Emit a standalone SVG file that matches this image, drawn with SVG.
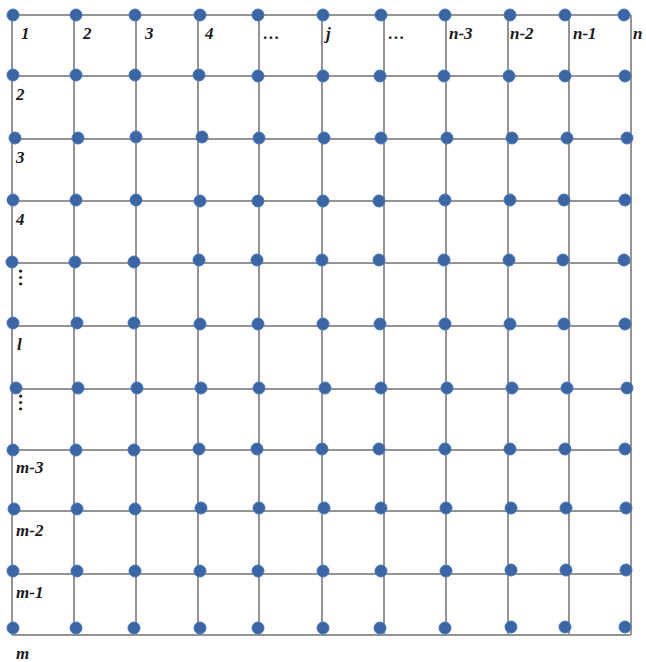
<svg xmlns="http://www.w3.org/2000/svg" width="646" height="662" viewBox="0 0 646 662">
<style>
.ln{stroke:#949494;stroke-width:2;fill:none}
.d{fill:#3b66a5;stroke:#4a77b8;stroke-width:1}
.t{font-family:"Liberation Serif","Times New Roman",serif;font-weight:bold;font-style:italic;font-size:17px;fill:#1a1a1a}
.v{font-family:"Liberation Serif","Times New Roman",serif;font-weight:bold;font-size:19px;fill:#1a1a1a}
</style>
<rect width="646" height="662" fill="#fff"/>
<g id="connectors" class="ln">
<path d="M12 15V635M74 15V635M136 15V635M198 15V635M259 15V635M322 15V635M384 15V635M446 15V635M508 15V635M569 15V635M631 15V635"/>
<path d="M12 15H631M12 76H631M12 139H631M12 201H631M12 263H631M12 326H631M12 389H631M12 450H631M12 511H631M12 574H631M12 635H631"/>
</g>
<g id="nodes">
<g id="r1">
<g id="n1-1"><circle class="d" cx="13" cy="15" r="6"/></g><g id="n1-2"><circle class="d" cx="76" cy="15" r="6"/></g><g id="n1-3"><circle class="d" cx="135" cy="15" r="6"/></g><g id="n1-4"><circle class="d" cx="200" cy="15" r="6"/></g><g id="n1-5"><circle class="d" cx="258" cy="15" r="6"/></g><g id="n1-6"><circle class="d" cx="323" cy="15" r="6"/></g><g id="n1-7"><circle class="d" cx="381" cy="15" r="6"/></g><g id="n1-8"><circle class="d" cx="445" cy="15" r="6"/></g><g id="n1-9"><circle class="d" cx="510" cy="15" r="6"/></g><g id="n1-10"><circle class="d" cx="565" cy="15" r="6"/></g><g id="n1-11"><circle class="d" cx="624" cy="15" r="6"/></g>
</g>
<g id="r2">
<g id="n2-1"><circle class="d" cx="13" cy="75" r="6"/></g><g id="n2-2"><circle class="d" cx="76" cy="75" r="6"/></g><g id="n2-3"><circle class="d" cx="135" cy="75" r="6"/></g><g id="n2-4"><circle class="d" cx="199" cy="75" r="6"/></g><g id="n2-5"><circle class="d" cx="258" cy="76" r="6"/></g><g id="n2-6"><circle class="d" cx="323" cy="76" r="6"/></g><g id="n2-7"><circle class="d" cx="380" cy="76" r="6"/></g><g id="n2-8"><circle class="d" cx="444" cy="76" r="6"/></g><g id="n2-9"><circle class="d" cx="509" cy="76" r="6"/></g><g id="n2-10"><circle class="d" cx="565" cy="76" r="6"/></g><g id="n2-11"><circle class="d" cx="625" cy="76" r="6"/></g>
</g>
<g id="r3">
<g id="n3-1"><circle class="d" cx="15" cy="138" r="6"/></g><g id="n3-2"><circle class="d" cx="78" cy="138" r="6"/></g><g id="n3-3"><circle class="d" cx="136" cy="137" r="6"/></g><g id="n3-4"><circle class="d" cx="202" cy="137" r="6"/></g><g id="n3-5"><circle class="d" cx="259" cy="138" r="6"/></g><g id="n3-6"><circle class="d" cx="324" cy="138" r="6"/></g><g id="n3-7"><circle class="d" cx="381" cy="138" r="6"/></g><g id="n3-8"><circle class="d" cx="447" cy="138" r="6"/></g><g id="n3-9"><circle class="d" cx="512" cy="138" r="6"/></g><g id="n3-10"><circle class="d" cx="567" cy="138" r="6"/></g><g id="n3-11"><circle class="d" cx="627" cy="138" r="6"/></g>
</g>
<g id="r4">
<g id="n4-1"><circle class="d" cx="13" cy="200" r="6"/></g><g id="n4-2"><circle class="d" cx="76" cy="200" r="6"/></g><g id="n4-3"><circle class="d" cx="136" cy="200" r="6"/></g><g id="n4-4"><circle class="d" cx="200" cy="201" r="6"/></g><g id="n4-5"><circle class="d" cx="258" cy="201" r="6"/></g><g id="n4-6"><circle class="d" cx="323" cy="201" r="6"/></g><g id="n4-7"><circle class="d" cx="379" cy="201" r="6"/></g><g id="n4-8"><circle class="d" cx="445" cy="200" r="6"/></g><g id="n4-9"><circle class="d" cx="510" cy="200" r="6"/></g><g id="n4-10"><circle class="d" cx="564" cy="200" r="6"/></g><g id="n4-11"><circle class="d" cx="625" cy="200" r="6"/></g>
</g>
<g id="r5">
<g id="n5-1"><circle class="d" cx="12" cy="262" r="6"/></g><g id="n5-2"><circle class="d" cx="75" cy="262" r="6"/></g><g id="n5-3"><circle class="d" cx="134" cy="262" r="6"/></g><g id="n5-4"><circle class="d" cx="199" cy="260" r="6"/></g><g id="n5-5"><circle class="d" cx="257" cy="260" r="6"/></g><g id="n5-6"><circle class="d" cx="322" cy="260" r="6"/></g><g id="n5-7"><circle class="d" cx="379" cy="260" r="6"/></g><g id="n5-8"><circle class="d" cx="444" cy="260" r="6"/></g><g id="n5-9"><circle class="d" cx="509" cy="260" r="6"/></g><g id="n5-10"><circle class="d" cx="563" cy="260" r="6"/></g><g id="n5-11"><circle class="d" cx="624" cy="260" r="6"/></g>
</g>
<g id="r6">
<g id="n6-1"><circle class="d" cx="13" cy="323" r="6"/></g><g id="n6-2"><circle class="d" cx="77" cy="323" r="6"/></g><g id="n6-3"><circle class="d" cx="134" cy="323" r="6"/></g><g id="n6-4"><circle class="d" cx="200" cy="324" r="6"/></g><g id="n6-5"><circle class="d" cx="258" cy="324" r="6"/></g><g id="n6-6"><circle class="d" cx="323" cy="324" r="6"/></g><g id="n6-7"><circle class="d" cx="380" cy="324" r="6"/></g><g id="n6-8"><circle class="d" cx="445" cy="324" r="6"/></g><g id="n6-9"><circle class="d" cx="510" cy="324" r="6"/></g><g id="n6-10"><circle class="d" cx="564" cy="324" r="6"/></g><g id="n6-11"><circle class="d" cx="625" cy="324" r="6"/></g>
</g>
<g id="r7">
<g id="n7-1"><circle class="d" cx="16" cy="388" r="6"/></g><g id="n7-2"><circle class="d" cx="78" cy="388" r="6"/></g><g id="n7-3"><circle class="d" cx="137" cy="388" r="6"/></g><g id="n7-4"><circle class="d" cx="201" cy="388" r="6"/></g><g id="n7-5"><circle class="d" cx="259" cy="388" r="6"/></g><g id="n7-6"><circle class="d" cx="325" cy="388" r="6"/></g><g id="n7-7"><circle class="d" cx="381" cy="388" r="6"/></g><g id="n7-8"><circle class="d" cx="447" cy="388" r="6"/></g><g id="n7-9"><circle class="d" cx="512" cy="388" r="6"/></g><g id="n7-10"><circle class="d" cx="567" cy="388" r="6"/></g><g id="n7-11"><circle class="d" cx="627" cy="388" r="6"/></g>
</g>
<g id="r8">
<g id="n8-1"><circle class="d" cx="13" cy="450" r="6"/></g><g id="n8-2"><circle class="d" cx="76" cy="450" r="6"/></g><g id="n8-3"><circle class="d" cx="134" cy="450" r="6"/></g><g id="n8-4"><circle class="d" cx="199" cy="449" r="6"/></g><g id="n8-5"><circle class="d" cx="257" cy="449" r="6"/></g><g id="n8-6"><circle class="d" cx="322" cy="449" r="6"/></g><g id="n8-7"><circle class="d" cx="379" cy="449" r="6"/></g><g id="n8-8"><circle class="d" cx="445" cy="449" r="6"/></g><g id="n8-9"><circle class="d" cx="510" cy="449" r="6"/></g><g id="n8-10"><circle class="d" cx="565" cy="449" r="6"/></g><g id="n8-11"><circle class="d" cx="625" cy="449" r="6"/></g>
</g>
<g id="r9">
<g id="n9-1"><circle class="d" cx="14" cy="509" r="6"/></g><g id="n9-2"><circle class="d" cx="77" cy="509" r="6"/></g><g id="n9-3"><circle class="d" cx="135" cy="509" r="6"/></g><g id="n9-4"><circle class="d" cx="201" cy="508" r="6"/></g><g id="n9-5"><circle class="d" cx="259" cy="508" r="6"/></g><g id="n9-6"><circle class="d" cx="324" cy="508" r="6"/></g><g id="n9-7"><circle class="d" cx="381" cy="508" r="6"/></g><g id="n9-8"><circle class="d" cx="446" cy="508" r="6"/></g><g id="n9-9"><circle class="d" cx="511" cy="508" r="6"/></g><g id="n9-10"><circle class="d" cx="566" cy="508" r="6"/></g><g id="n9-11"><circle class="d" cx="626" cy="508" r="6"/></g>
</g>
<g id="r10">
<g id="n10-1"><circle class="d" cx="13" cy="571" r="6"/></g><g id="n10-2"><circle class="d" cx="77" cy="571" r="6"/></g><g id="n10-3"><circle class="d" cx="135" cy="571" r="6"/></g><g id="n10-4"><circle class="d" cx="200" cy="571" r="6"/></g><g id="n10-5"><circle class="d" cx="258" cy="571" r="6"/></g><g id="n10-6"><circle class="d" cx="323" cy="571" r="6"/></g><g id="n10-7"><circle class="d" cx="381" cy="571" r="6"/></g><g id="n10-8"><circle class="d" cx="446" cy="571" r="6"/></g><g id="n10-9"><circle class="d" cx="511" cy="570" r="6"/></g><g id="n10-10"><circle class="d" cx="566" cy="570" r="6"/></g><g id="n10-11"><circle class="d" cx="626" cy="570" r="6"/></g>
</g>
<g id="r11">
<g id="n11-1"><circle class="d" cx="13" cy="628" r="6"/></g><g id="n11-2"><circle class="d" cx="76" cy="628" r="6"/></g><g id="n11-3"><circle class="d" cx="134" cy="628" r="6"/></g><g id="n11-4"><circle class="d" cx="200" cy="628" r="6"/></g><g id="n11-5"><circle class="d" cx="258" cy="628" r="6"/></g><g id="n11-6"><circle class="d" cx="323" cy="628" r="6"/></g><g id="n11-7"><circle class="d" cx="380" cy="628" r="6"/></g><g id="n11-8"><circle class="d" cx="445" cy="628" r="6"/></g><g id="n11-9"><circle class="d" cx="511" cy="627" r="6"/></g><g id="n11-10"><circle class="d" cx="565" cy="627" r="6"/></g><g id="n11-11"><circle class="d" cx="625" cy="627" r="6"/></g>
</g>
</g>
<g id="labels">
<text class="t" x="21" y="39">1</text>
<text class="t" x="83" y="39">2</text>
<text class="t" x="145" y="39">3</text>
<text class="t" x="205" y="39">4</text>
<text class="t" x="263" y="39">…</text>
<text class="t" x="326" y="39">j</text>
<text class="t" x="388" y="39">…</text>
<text class="t" x="449" y="39">n-3</text>
<text class="t" x="510" y="39">n-2</text>
<text class="t" x="573" y="39">n-1</text>
<text class="t" x="633" y="39">n</text>
<text class="t" x="16" y="100">2</text>
<text class="t" x="16" y="163">3</text>
<text class="t" x="16" y="225">4</text>
<text class="v" transform="translate(19,268) rotate(90)">…</text>
<text class="t" x="17" y="350">l</text>
<text class="v" transform="translate(19,393) rotate(90)">…</text>
<text class="t" x="16" y="473">m-3</text>
<text class="t" x="16" y="536">m-2</text>
<text class="t" x="16" y="598">m-1</text>
<text class="t" x="16" y="659">m</text>
</g>
</svg>
